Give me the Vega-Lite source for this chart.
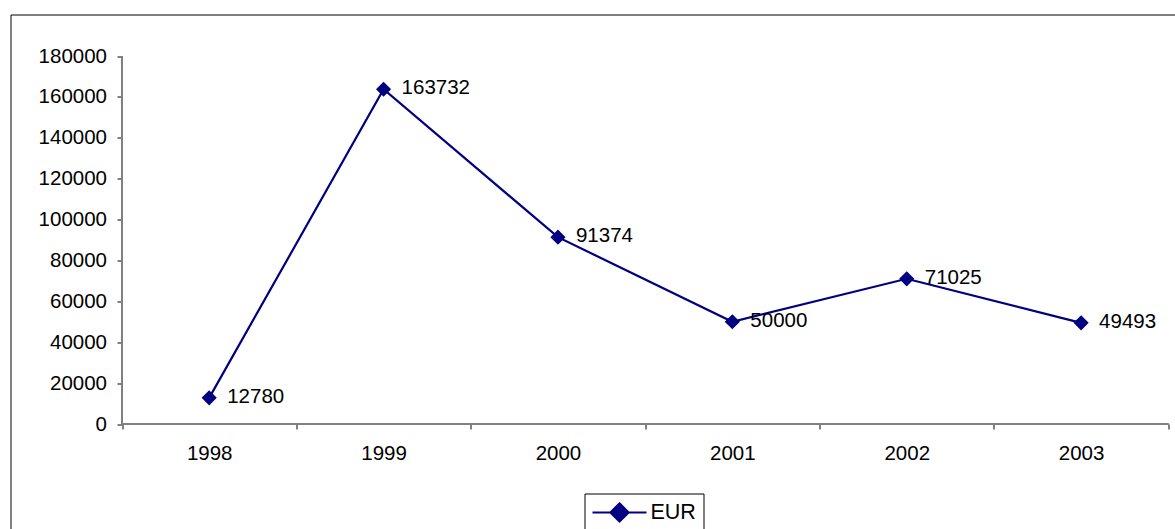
{
  "$schema": "https://vega.github.io/schema/vega-lite/v6.json",
  "width": 1180,
  "height": 530,
  "autosize": {"type": "none"},
  "padding": {"left": 10.5, "top": 14.5, "right": -15.5, "bottom": -15.5},
  "background": "white",
  "config": {"view": {"stroke": "#000000", "strokeWidth": 1}, "font": "Liberation Sans"},
  "data": {"values": [
    {"year": 1998, "value": 12780, "series": "EUR"},
    {"year": 1999, "value": 163732, "series": "EUR"},
    {"year": 2000, "value": 91374, "series": "EUR"},
    {"year": 2001, "value": 50000, "series": "EUR"},
    {"year": 2002, "value": 71025, "series": "EUR"},
    {"year": 2003, "value": 49493, "series": "EUR"}
  ]},
  "encoding": {
    "x": {
      "field": "year", "type": "quantitative",
      "scale": {"domain": [1996.8606, 2003.6273], "nice": false, "zero": false},
      "axis": {
        "title": null, "orient": "bottom", "offset": -120.5, "domain": false, "grid": false,
        "values": [1997.5, 1998, 1998.5, 1999, 1999.5, 2000, 2000.5, 2001, 2001.5, 2002, 2002.5, 2003, 2003.5],
        "labelExpr": "datum.value % 1 === 0 ? format(datum.value, 'd') : ''",
        "tickSize": 5, "tickColor": "#808080", "tickWidth": 2,
        "tickOpacity": {"condition": {"test": "datum.value % 1 === 0", "value": 0}, "value": 1},
        "labelFontSize": 20.5, "labelFont": "Liberation Sans", "labelColor": "#000000",
        "labelPadding": 14.5, "labelOverlap": false, "labelFlush": false, "labelBound": false
      }
    },
    "y": {
      "field": "value", "type": "quantitative",
      "scale": {"domain": [-58940, 200299], "nice": false, "zero": false},
      "axis": {
        "title": null, "orient": "left", "offset": -111.5, "domain": false, "grid": false,
        "values": [0, 20000, 40000, 60000, 80000, 100000, 120000, 140000, 160000, 180000],
        "format": "d",
        "tickSize": 5, "tickColor": "#808080", "tickWidth": 2,
        "labelFontSize": 20.5, "labelFont": "Liberation Sans", "labelColor": "#000000",
        "labelPadding": 10.5, "labelOverlap": false, "labelFlush": false, "labelBound": false
      }
    }
  },
  "layer": [
    {
      "mark": {"type": "rule", "color": "#808080", "strokeWidth": 2},
      "encoding": {
        "x": {"datum": 1997.5, "type": "quantitative"},
        "y": {"datum": 0, "type": "quantitative"},
        "y2": {"datum": 180000}
      }
    },
    {
      "mark": {"type": "rule", "color": "#808080", "strokeWidth": 2},
      "encoding": {
        "x": {"datum": 1997.5, "type": "quantitative"},
        "x2": {"datum": 2003.5},
        "y": {"datum": 0, "type": "quantitative"}
      }
    },
    {
      "mark": {"type": "line", "strokeWidth": 2.2},
      "encoding": {
        "color": {
          "field": "series", "type": "nominal",
          "scale": {"range": ["#000080"]},
          "legend": {
            "orient": "none", "legendX": 574, "legendY": 479, "title": null,
            "strokeColor": "#000000", "fillColor": "#ffffff", "padding": 7,
            "symbolType": "M-1,0L1,0M0,-0.34L0.34,0L0,0.34L-0.34,0Z",
            "symbolSize": 2916, "symbolStrokeWidth": 2,
            "symbolFillColor": "#000080", "symbolStrokeColor": "#000080",
            "labelFontSize": 21.5, "labelFont": "Liberation Sans", "labelColor": "#000000",
            "labelOffset": 3, "clipHeight": 24
          }
        }
      }
    },
    {
      "mark": {"type": "point", "shape": "diamond", "filled": true, "size": 230, "color": "#000080", "opacity": 1}
    },
    {
      "mark": {"type": "text", "align": "left", "baseline": "middle", "dx": 18, "dy": -1, "fontSize": 20.5, "font": "Liberation Sans", "color": "#000000"},
      "encoding": {"text": {"field": "value", "type": "quantitative", "format": "d"}}
    }
  ]
}
